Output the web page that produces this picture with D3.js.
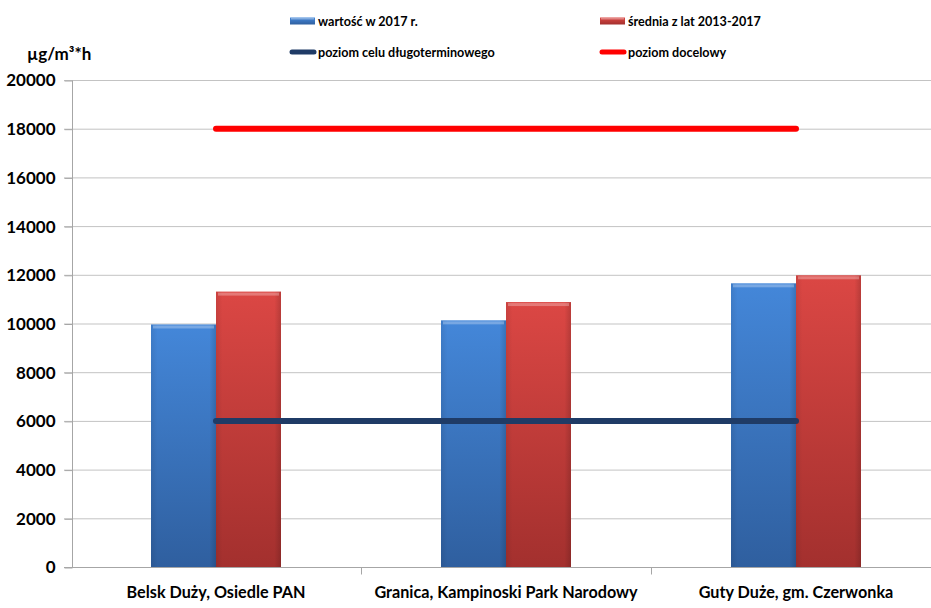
<!DOCTYPE html>
<html>
<head>
<meta charset="utf-8">
<script src="https://cdn.jsdelivr.net/npm/d3@7"></script>
<style>
  html, body { margin: 0; padding: 0; background: #fff; }
  svg { display: block; font-family: Lato, "Open Sans", sans-serif; font-weight: bold; }
</style>
</head>
<body>
<svg id="chart" width="931" height="608"></svg>
<script>
// Stations
const categories = ["Belsk Duży, Osiedle PAN", "Granica, Kampinoski Park Narodowy", "Guty Duże, gm. Czerwonka"];
// AOT40 values, µg/m³*h
const value2017 = [9960, 10130, 11650];
const mean2013_2017 = [11310, 10880, 11980];
// Reference levels
const longTermObjective = 6000;
const targetValue = 18000;
const yTicks = [0, 2000, 4000, 6000, 8000, 10000, 12000, 14000, 16000, 18000, 20000];
const seriesNames = ["wartość w 2017 r.", "średnia z lat 2013-2017", "poziom celu długoterminowego", "poziom docelowy"];

const svg = d3.select("#chart");
const W = 931, H = 608;
const plotLeft = 72, plotTop = 80, plotBottom = 567;

const x = d3.scaleBand().domain(categories).range([71, 941]);
const y = d3.scaleLinear().domain([0, 20000]).range([plotBottom, plotTop]);
const barW = 65;

// Gradients for bars
const defs = svg.append("defs");
function grad(id, c1, c2) {
  const g = defs.append("linearGradient").attr("id", id).attr("x1", 0).attr("y1", 0).attr("x2", 0).attr("y2", 1);
  g.append("stop").attr("offset", "0%").attr("stop-color", c1);
  g.append("stop").attr("offset", "100%").attr("stop-color", c2);
}
grad("gBlue", "#4487d9", "#2f5f9f");
grad("gRed", "#db4744", "#a3302e");
function hgrad(id) {
  const g = defs.append("linearGradient").attr("id", id).attr("x1", 0).attr("y1", 0).attr("x2", 1).attr("y2", 0);
  g.append("stop").attr("offset", "0%").attr("stop-color", "#000").attr("stop-opacity", 0.08);
  g.append("stop").attr("offset", "10%").attr("stop-color", "#000").attr("stop-opacity", 0);
  g.append("stop").attr("offset", "90%").attr("stop-color", "#000").attr("stop-opacity", 0);
  g.append("stop").attr("offset", "100%").attr("stop-color", "#000").attr("stop-opacity", 0.15);
}
hgrad("gEdge");

// Gridlines
svg.append("g").selectAll("line").data(yTicks.filter(d => d > 0)).join("line")
  .attr("x1", plotLeft - 8).attr("x2", W).attr("y1", d => y(d) + 0.5).attr("y2", d => y(d) + 0.5)
  .attr("stroke", "#c3c3c3").attr("stroke-width", 1);

// Y axis
const yAxis = d3.axisLeft(y).tickValues(yTicks).tickSize(8).tickPadding(9).tickFormat(d3.format("d"));
const ya = svg.append("g").attr("transform", `translate(${plotLeft + 0.5},0.5)`).call(yAxis);
ya.select(".domain").attr("stroke", "#a6a6a6").attr("d", `M0,${plotTop}V${plotBottom}`);
ya.selectAll(".tick line").attr("stroke", "#a6a6a6");
ya.selectAll(".tick text").attr("font-size", 17).attr("font-weight", "bold").attr("fill", "#000")
  .attr("font-family", "Lato, 'Open Sans', sans-serif");

// X axis
const xa = svg.append("g").attr("transform", `translate(0,${plotBottom + 0.5})`);
xa.append("line").attr("x1", plotLeft - 8).attr("x2", W).attr("stroke", "#a6a6a6");
xa.selectAll(".sep").data([1, 2]).join("line").attr("class", "sep")
  .attr("x1", i => x(categories[i]) + 0.5).attr("x2", i => x(categories[i]) + 0.5)
  .attr("y1", 0).attr("y2", 7).attr("stroke", "#a6a6a6");
xa.selectAll("text").data(categories).join("text")
  .attr("x", d => x(d) + x.bandwidth() / 2).attr("y", 30)
  .attr("text-anchor", "middle").attr("font-size", 16.2).attr("fill", "#000").text(d => d);

// Bars
const bars = svg.append("g");
function drawBars(values, fill, offset) {
  const g = bars.append("g");
  const data = categories.map((c, i) => ({ c, v: values[i] }));
  const bx = d => x(d.c) + x.bandwidth() / 2 + offset;
  g.selectAll(".b").data(data).join("rect").attr("class", "b")
    .attr("x", bx).attr("width", barW)
    .attr("y", d => y(d.v)).attr("height", d => y(0) - y(d.v))
    .attr("fill", fill);
  g.selectAll(".e").data(data).join("rect").attr("class", "e")
    .attr("x", bx).attr("width", barW)
    .attr("y", d => y(d.v)).attr("height", d => y(0) - y(d.v))
    .attr("fill", "url(#gEdge)");
  // bevelled top edge
  g.selectAll(".t").data(data).join("rect").attr("class", "t")
    .attr("x", d => bx(d) + 2).attr("width", barW - 4)
    .attr("y", d => y(d.v) + 1).attr("height", 3)
    .attr("fill", "#fff").attr("opacity", 0.28);
}
drawBars(value2017, "url(#gBlue)", -barW);
drawBars(mean2013_2017, "url(#gRed)", 0);

// Reference lines between first and last station
const cx = d => x(d) + x.bandwidth() / 2;
const line = d3.line().x(d => cx(d[0])).y(d => y(d[1]));
const ends = [categories[0], categories[categories.length - 1]];
svg.append("path").attr("d", line(ends.map(c => [c, targetValue])))
  .attr("stroke", "#ff0000").attr("stroke-width", 6).attr("stroke-linecap", "round").attr("fill", "none");
svg.append("path").attr("d", line(ends.map(c => [c, longTermObjective])))
  .attr("stroke", "#1f3b66").attr("stroke-width", 6).attr("stroke-linecap", "round").attr("fill", "none");

// Y axis unit
svg.append("text").attr("x", 27).attr("y", 60).attr("font-size", 17).attr("fill", "#000").text("µg/m³*h");

// Legend
const lg = svg.append("g").attr("font-size", 12.6).attr("fill", "#000");
const items = [
  { name: seriesNames[0], x: 290, y: 21, type: "bar", fill: "url(#gBlue)" },
  { name: seriesNames[1], x: 600, y: 21, type: "bar", fill: "url(#gRed)" },
  { name: seriesNames[2], x: 290, y: 52, type: "line", fill: "#1f3b66" },
  { name: seriesNames[3], x: 600, y: 52, type: "line", fill: "#ff0000" }
];
items.forEach(it => {
  if (it.type === "bar") {
    lg.append("rect").attr("x", it.x).attr("y", it.y - 3.5).attr("width", 25).attr("height", 7).attr("fill", it.fill);
    lg.append("rect").attr("x", it.x + 1).attr("y", it.y - 3).attr("width", 23).attr("height", 1.5).attr("fill", "#fff").attr("opacity", 0.35);
  } else {
    lg.append("line").attr("x1", it.x + 2).attr("x2", it.x + 24).attr("y1", it.y).attr("y2", it.y)
      .attr("stroke", it.fill).attr("stroke-width", 5).attr("stroke-linecap", "round");
  }
  lg.append("text").attr("x", it.x + 28).attr("y", it.y + 4.5).text(it.name);
});
</script>
</body>
</html>
